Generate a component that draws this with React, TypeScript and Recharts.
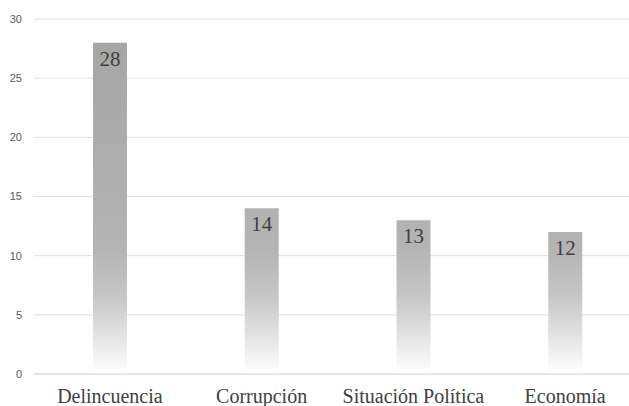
import React from 'react';
import { BarChart, Bar, XAxis, YAxis, CartesianGrid, LabelList } from 'recharts';

const categories = ['Delincuencia', 'Corrupción', 'Situación Política', 'Economía'];
const values = [28, 14, 13, 12];
const yTicks = [0, 5, 10, 15, 20, 25, 30];

const data = categories.map((name, i) => ({ name, value: values[i] }));

const SERIF = 'Liberation Serif, DejaVu Serif, serif';

const CategoryTick = ({ x, y, payload }: any) => (
  <text x={x} y={y} dy={25} textAnchor="middle" fontFamily={SERIF} fontSize={20} fill="#404040">
    {payload.value}
  </text>
);

export default function App() {
  return (
    <div style={{ position: 'absolute', left: 0, top: 0, width: 629, height: 406, overflow: 'hidden', background: '#fff' }}>
      <BarChart width={660} height={406} data={data} margin={{ top: 19, right: 19, bottom: 2, left: 0 }}>
        <defs>
          <linearGradient id="barFade" gradientUnits="userSpaceOnUse" x1="0" y1="19" x2="0" y2="374">
            <stop offset="0" stopColor="#a4a4a4" />
            <stop offset="0.65" stopColor="#b4b4b4" />
            <stop offset="0.78" stopColor="#c6c6c6" />
            <stop offset="1" stopColor="#ffffff" />
          </linearGradient>
        </defs>
        <CartesianGrid vertical={false} stroke="#dedede" />
        <XAxis
          dataKey="name"
          axisLine={{ stroke: '#d9d9d9' }}
          tickLine={false}
          tickSize={0}
          tickMargin={4}
          height={30}
          interval={0}
          tick={<CategoryTick />}
        />
        <YAxis
          width={34}
          domain={[0, 30]}
          ticks={yTicks}
          axisLine={false}
          tickLine={false}
          tickSize={0}
          tickMargin={12}
          tick={{ fontFamily: 'Liberation Sans, Arial, sans-serif', fontSize: 11, fill: '#595959' }}
        />
        <Bar dataKey="value" fill="url(#barFade)" barSize={34} isAnimationActive={false}>
          <LabelList
            dataKey="value"
            position="insideTop"
            offset={8}
            fontFamily={SERIF}
            fontSize={21}
            fill="#404040"
          />
        </Bar>
      </BarChart>
    </div>
  );
}
